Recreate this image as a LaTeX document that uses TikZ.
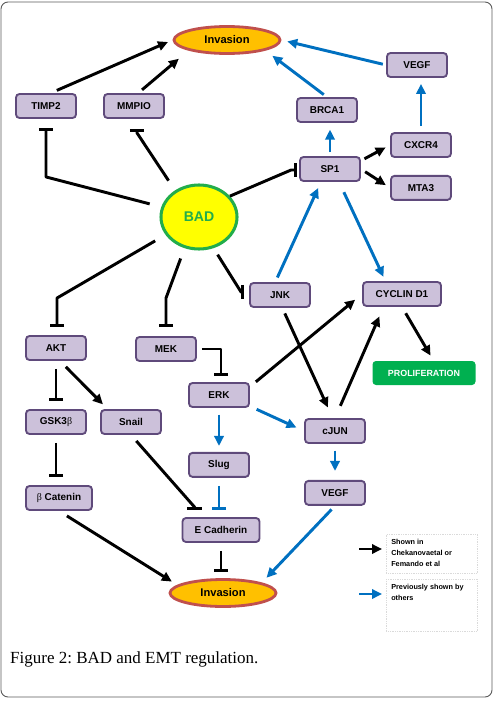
\documentclass[tikz,border=0pt]{standalone}
\usepackage{fontspec}
\setmainfont{Liberation Serif}
\setsansfont{Liberation Sans}
\newfontfamily\greekfont{Liberation Serif}
\frenchspacing
\definecolor{geneFill}{HTML}{CCC1DA}
\definecolor{geneBorder}{HTML}{5F4A7B}
\definecolor{invOrange}{HTML}{FFC000}
\definecolor{invBorder}{HTML}{C0504D}
\definecolor{badYellow}{HTML}{FFFF00}
\definecolor{badGreen}{HTML}{22AD4B}
\definecolor{prolifGreen}{HTML}{00B050}
\definecolor{sgBlue}{HTML}{0070C0}
\definecolor{sgBlack}{HTML}{000000}
\definecolor{legendGrey}{HTML}{DADADA}
\definecolor{frameGrey}{HTML}{5A5A5A}
\usepackage{tikz}
\usetikzlibrary{arrows.meta, positioning, shapes.geometric, calc}
\newcommand{\gbeta}{{\greekfont\mdseries β}}
\tikzset{
    gene node/.style={rectangle, draw=geneBorder, fill=geneFill, line width=1.6pt, rounded corners=3pt, minimum width=1.8cm, minimum height=0.72cm, inner sep=2pt, align=center, font=\sffamily\bfseries\fontsize{8.5}{10}\selectfont},
    invasion node/.style={ellipse, draw=invBorder, fill=invOrange, line width=2.4pt, minimum width=3.18cm, minimum height=0.81cm, inner sep=0pt, font=\sffamily\bfseries\fontsize{9.5}{11}\selectfont},
    bad node/.style={ellipse, draw=badGreen, fill=badYellow, line width=2.6pt, minimum width=2.28cm, minimum height=1.92cm, text=badGreen, font=\sffamily\bfseries\fontsize{12}{14}\selectfont},
    output node/.style={rectangle, fill=prolifGreen, rounded corners=3pt, minimum width=3.09cm, minimum height=0.72cm, text=white, font=\sffamily\bfseries\fontsize{7.6}{9}\selectfont},
    legend node/.style={rectangle, draw=legendGrey, densely dotted, line width=0.5pt, inner sep=0.15cm, anchor=north west, font=\sffamily\bfseries\fontsize{6.2}{9.4}\selectfont},
    arrow style/.style={-{Triangle[length=3mm, width=2.8mm]}, line width=2.5pt, sgBlack},
    blue arrow/.style={arrow style, sgBlue},
    inhibit style/.style={-{Bar[width=4.3mm]}, line width=2.5pt, line join=round, sgBlack},
    blue inhibit/.style={inhibit style, sgBlue},
    frame box/.style={draw=frameGrey, line width=0.8pt, rounded corners=6pt},
}

\begin{document}
\begin{tikzpicture}[x=0.03cm, y=-0.03cm]
    \useasboundingbox (0,0) rectangle (496,701);
    \draw[frame box] (1,2) rectangle (492,697);

    % upper part
    \node[invasion node] (inv top) at (227,40) {Invasion};
    \node[gene node] (timp2) at (46,106) {TIMP2};
    \node[gene node] (mmpio) at (134,106) {MMPIO};
    \node[bad node] (bad) at (199,217) {BAD};
    \node[gene node] (brca1) at (327,110) {BRCA1};
    \node[gene node] (vegf top) at (417,65) {VEGF};
    \node[gene node] (sp1) at (330,169) {SP1};
    \node[gene node] (cxcr4) at (421,145) {CXCR4};
    \node[gene node, below=0.51cm of cxcr4] (mta3) {MTA3};
    \node[gene node] (jnk) at (280,295) {JNK};
    \node[gene node, minimum width=2.34cm] (cyclin) at (402,294) {CYCLIN D1};
    \node[output node] (prolif) at (424,373) {PROLIFERATION};

    % lower part
    \node[gene node] (akt) at (56,348) {AKT};
    \node[gene node] (mek) at (166,349) {MEK};
    \node[gene node] (erk) at (219,395) {ERK};
    \node[gene node] (gsk) at (56,422) {GSK3\gbeta};
    \node[gene node] (snail) at (131,422) {Snail};
    \node[gene node] (cjun) at (335,431) {cJUN};
    \node[gene node, below=1.32cm of erk] (slug) {Slug};
    \node[gene node, below=1.08cm of cjun] (vegf bot) {VEGF};
    \node[gene node, minimum width=1.98cm] (bcat) at (59,498) {\gbeta{} Catenin};
    \node[gene node, minimum width=2.31cm] (ecad) at (221,530) {E Cadherin};
    \node[invasion node] (inv bot) at (223,593) {Invasion};

    % inhibitions from BAD
    \draw[inhibit style, shorten <=0.36cm] (bad.165) -- ($(timp2.south)+(0,58)$) -- ($(timp2.south)+(0,9)$);
    \draw[inhibit style, shorten <=0.35cm] (bad.132) -- ($(mmpio.south)+(3,14)$) -- ($(mmpio.south)+(3,10)$);
    \draw[inhibit style] (bad.34) -- ($(sp1.west)+(-8,1)$) -- ($(sp1.west)+(-2,1)$);
    \draw[inhibit style, shorten <=0.36cm] (bad.208) -- ($(akt.north)+(1,-37)$) -- ($(akt.north)+(1,-8)$);
    \draw[inhibit style, shorten <=0.33cm] (bad.245) -- ($(mek.north)+(0,-38)$) -- ($(mek.north)+(0,-9)$);
    \draw[inhibit style, shorten <=0.23cm] (bad.295) -- ($(jnk.west)+(-8,-3)$) -- ($(jnk.west)+(-5,-3)$);

    % other inhibitions
    \draw[inhibit style, shorten <=0.15cm] (mek.east) -| ($(erk.north)+(2,-6)$);
    \draw[inhibit style, shorten <=0.24cm, shorten >=0.24cm] (akt.south) -- (gsk.north);
    \draw[inhibit style, shorten <=0.24cm, shorten >=0.24cm] (gsk.south) -- (gsk.south |- bcat.north);
    \draw[inhibit style, shorten <=0.24cm] (snail.south) -- ($(ecad.north west)+(13,-10)$) -- ($(ecad.north west)+(13,-7)$);
    \draw[blue inhibit, shorten <=0.24cm, shorten >=0.21cm] (slug.south) -- (slug.south |- ecad.north);
    \draw[inhibit style, shorten <=0.24cm, shorten >=0.18cm] (ecad.south) -- (ecad.south |- inv bot.north);

    % activations
    \draw[arrow style, shorten <=0.2cm, shorten >=0.15cm] (timp2.70) -- (inv top.west);
    \draw[arrow style, shorten <=0.15cm, shorten >=0.38cm] (mmpio.72) -- (inv top.south west);
    \draw[blue arrow, shorten <=0.12cm, shorten >=0.2cm] (sp1.north) -- (sp1.north |- brca1.south);
    \draw[blue arrow, shorten <=0.12cm, shorten >=0.26cm] (brca1.north) -- (inv top.south east);
    \draw[blue arrow, shorten <=0.1cm, shorten >=0.18cm] (vegf top.west) -- (inv top.east);
    \draw[blue arrow, shorten <=0.18cm, shorten >=0.18cm] (cxcr4.north) -- (cxcr4.north |- vegf top.south);
    \draw[arrow style, shorten <=0.12cm, shorten >=0.15cm] (sp1.15) -- (cxcr4.west);
    \draw[arrow style, shorten <=0.15cm, shorten >=0.15cm] (sp1.east) -- (mta3.west);
    \draw[blue arrow, shorten <=0.15cm, shorten >=0.2cm] (jnk.110) -- (sp1.-125);
    \draw[blue arrow, shorten <=0.34cm, shorten >=0.14cm] (sp1.-55) -- (cyclin.142);
    \draw[arrow style, shorten <=0.18cm, shorten >=0.35cm] (jnk.-80) -- (cjun.100);
    \draw[arrow style, shorten <=0.23cm, shorten >=0.27cm] (erk.15) -- (cyclin.west);
    \draw[arrow style, shorten <=0.4cm, shorten >=0.31cm] (cjun.north) -- (cyclin.215);
    \draw[arrow style, shorten <=0.22cm, shorten >=0.18cm] (cyclin.south) -- (prolif.52);
    \draw[blue arrow, shorten <=0.22cm, shorten >=0.25cm] (erk.-20) -- (cjun.west);
    \draw[blue arrow, shorten <=0.2cm, shorten >=0.18cm] (erk.south) -- (slug.north);
    \draw[blue arrow, shorten <=0.2cm, shorten >=0.27cm] (cjun.south) -- (vegf bot.north);
    \draw[arrow style, shorten <=0.25cm, shorten >=0.2cm] (akt.-73) -- (snail.151);
    \draw[arrow style, shorten <=0.28cm, shorten >=0.19cm] (bcat.south) -- (inv bot.170);
    \draw[blue arrow, shorten <=0.15cm, shorten >=0.2cm] (vegf bot.south) -- (inv bot.15);

    % legend
    \node[legend node] (leg shown) at (386,534) {\parbox[t][0.87cm][t]{2.43cm}{Shown in\\Chekanovaetal or\\Femando et al}};
    \node[legend node] (leg others) at (386,579) {\parbox[t][1.26cm][t]{2.43cm}{Previously shown by\\others}};
    \coordinate (leg shown tail) at (359,549);
    \coordinate (leg others tail) at (359,594);
    \draw[arrow style, line width=2pt, shorten >=0.12cm] (leg shown tail) -- (leg shown tail -| leg shown.west);
    \draw[blue arrow, line width=2pt, shorten >=0.12cm] (leg others tail) -- (leg others tail -| leg others.west);

    \node[anchor=base west, inner sep=0pt, font=\fontsize{14.5}{16}\selectfont] (caption) at (10,663) {Figure 2: BAD and EMT regulation.};
\end{tikzpicture}
\end{document}
